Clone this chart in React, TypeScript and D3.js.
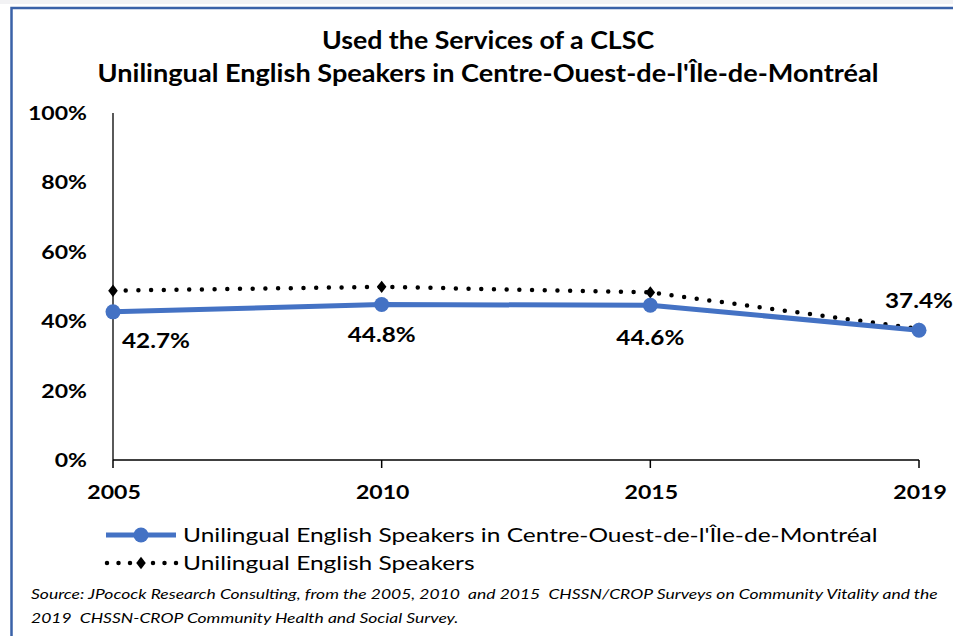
import React from "react";
import * as d3 from "d3";

const years = ["2005", "2010", "2015", "2019"];
const centreOuest = [42.7, 44.8, 44.6, 37.4];
const allUnilingual = [48.8, 49.9, 48.3, 37.8];
const yTicks = [0, 20, 40, 60, 80, 100];
const titleLines = [
  "Used the Services of a CLSC",
  "Unilingual English Speakers in Centre-Ouest-de-l'Île-de-Montréal",
];
const legendLabels = [
  "Unilingual English Speakers in Centre-Ouest-de-l'Île-de-Montréal",
  "Unilingual English Speakers",
];
const sourceLines = [
  "Source: JPocock Research Consulting, from the 2005, 2010  and 2015  CHSSN/CROP Surveys on Community Vitality and the",
  "2019  CHSSN-CROP Community Health and Social Survey.",
];

const W = 953;
const H = 636;
const FONT = "Lato, 'Open Sans', sans-serif";
const BLUE = "#4472C4";
const K = 1.215;

type STProps = {
  x: number;
  y: number;
  k?: number;
  anchor?: "start" | "middle" | "end";
  size: number;
  bold?: boolean;
  italic?: boolean;
  children: React.ReactNode;
};

function ST({ x, y, k = K, anchor = "start", size, bold, italic, children }: STProps) {
  return (
    <text
      transform={`translate(${x},${y}) scale(${k},1)`}
      textAnchor={anchor}
      fontFamily={FONT}
      fontWeight={bold ? "bold" : "normal"}
      fontStyle={italic ? "italic" : "normal"}
      fontSize={size}
      fill="#000"
      style={{ whiteSpace: "pre" }}
    >
      {children}
    </text>
  );
}

export default function App() {
  const x = d3.scalePoint<string>().domain(years).range([113, 919]);
  const y = d3.scaleLinear().domain([0, 100]).range([460, 113]);

  const line = d3
    .line<number>()
    .x((_, i) => x(years[i]) as number)
    .y((d) => y(d));

  const diamond = d3.symbol().type(d3.symbolDiamond).size(55)();

  const labelPos: { dx: number; dy: number; anchor: "start" | "middle" }[] = [
    { dx: 9, dy: 36, anchor: "start" },
    { dx: 0, dy: 37, anchor: "middle" },
    { dx: 0, dy: 40, anchor: "middle" },
    { dx: 0, dy: -22, anchor: "middle" },
  ];

  const titleK = [1.114, 1.13];

  return (
    <svg
      width={W}
      height={H}
      style={{ position: "absolute", left: 0, top: 0, background: "#fff" }}
    >
      <rect x={0} y={0} width={W} height={4} fill="#f2f2f4" />
      <rect x={0} y={4} width={W} height={H} fill="#fff" />
      <path
        d={`M11.5,${H} L11.5,8 L${W},8`}
        fill="none"
        stroke="#3A62A8"
        strokeWidth={2.5}
      />

      {titleLines.map((t, i) => (
        <ST key={i} x={488} y={49 + i * 33} k={titleK[i]} anchor="middle" size={24} bold>
          {t}
        </ST>
      ))}

      {/* y axis */}
      <line x1={113} x2={113} y1={y(100)} y2={y(0)} stroke="#000" strokeWidth={1.3} />
      {yTicks.map((t) => (
        <ST key={t} x={87} y={y(t) + 7} anchor="end" size={19} bold>
          {t}%
        </ST>
      ))}

      {/* x axis */}
      <line x1={113} x2={919} y1={y(0)} y2={y(0)} stroke="#000" strokeWidth={1.5} />
      {years.map((yr) => (
        <g key={yr}>
          <line
            x1={x(yr)}
            x2={x(yr)}
            y1={y(0)}
            y2={y(0) + 8}
            stroke="#000"
            strokeWidth={1.5}
          />
          <ST x={(x(yr) as number) + 1} y={499} anchor="middle" size={19} bold>
            {yr}
          </ST>
        </g>
      ))}

      {/* dotted series */}
      <path
        d={line(allUnilingual) || ""}
        fill="none"
        stroke="#000"
        strokeWidth={4.5}
        strokeDasharray="0 12.7"
        strokeLinecap="round"
      />
      {allUnilingual.map((v, i) => (
        <path
          key={i}
          d={diamond || ""}
          transform={`translate(${x(years[i])},${y(v)}) scale(1.2,0.9)`}
          fill="#000"
        />
      ))}

      {/* blue series */}
      <path
        d={line(centreOuest) || ""}
        fill="none"
        stroke={BLUE}
        strokeWidth={5}
        strokeLinejoin="round"
      />
      {centreOuest.map((v, i) => (
        <circle key={i} cx={x(years[i])} cy={y(v)} r={7.5} fill={BLUE} />
      ))}
      {centreOuest.map((v, i) => (
        <ST
          key={i}
          x={(x(years[i]) as number) + labelPos[i].dx}
          y={y(v) + labelPos[i].dy}
          anchor={labelPos[i].anchor}
          size={20}
          bold
        >
          {v.toFixed(1)}%
        </ST>
      ))}

      {/* legend */}
      <line x1={106} x2={176} y1={535} y2={535} stroke={BLUE} strokeWidth={5} />
      <circle cx={141} cy={535} r={7.5} fill={BLUE} />
      <ST x={183} y={542} k={1.225} size={20}>
        {legendLabels[0]}
      </ST>
      <line
        x1={107}
        x2={177}
        y1={563}
        y2={563}
        stroke="#000"
        strokeWidth={4.5}
        strokeDasharray="0 11.5"
        strokeLinecap="round"
      />
      <path d={diamond || ""} transform="translate(141,563) scale(1.2,0.9)" fill="#000" />
      <ST x={183} y={570} k={1.225} size={20}>
        {legendLabels[1]}
      </ST>

      {/* source */}
      {sourceLines.map((s, i) => (
        <ST key={i} x={31} y={599 + i * 24} k={1.232} size={14.2} italic>
          {s}
        </ST>
      ))}
    </svg>
  );
}
